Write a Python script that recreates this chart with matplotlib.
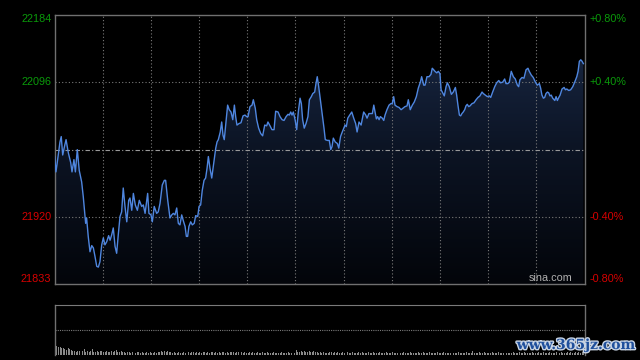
import numpy as np
import matplotlib
matplotlib.use("Agg")
import matplotlib.pyplot as plt
from matplotlib.patches import Polygon
from matplotlib.colors import LinearSegmentedColormap
import matplotlib.patheffects as pe

# ---- data (minutes since open, index level) ----
times = [
    0.1, 0.9, 1.7, 3.4, 4.2, 5.1, 6.4, 7.2, 8.6, 10.1,
    10.9, 12.1, 13.0, 14.2, 15.4, 16.9, 17.9, 19.0, 19.4, 20.0,
    21.0, 22.1, 23.2, 24.2, 25.2, 26.3, 27.3, 28.3, 29.4, 30.4,
    31.4, 32.5, 33.7, 34.6, 35.6, 36.6, 37.7, 38.7, 39.7, 40.8,
    41.8, 42.8, 43.9, 45.0, 46.2, 47.0, 48.1, 49.1, 50.3, 51.6,
    52.8, 54.3, 55.3, 56.4, 58.0, 58.8, 60.1, 60.9, 62.1, 63.6,
    64.6, 65.7, 67.1, 68.4, 69.2, 70.5, 71.9, 73.0, 74.0, 75.0,
    76.1, 77.1, 78.1, 79.2, 80.4, 81.3, 82.1, 82.9, 83.7, 84.8,
    85.8, 87.0, 87.9, 89.2, 90.0, 91.0, 92.0, 93.1, 94.1, 95.0,
    95.8, 96.8, 97.9, 99.1, 100.4, 101.2, 102.0, 103.2, 104.1, 104.9,
    105.7, 106.6, 107.8, 108.8, 109.9, 111.0, 112.0, 112.8, 113.6, 114.9,
    116.1, 117.4, 118.6, 119.6, 120.5, 121.7, 123.0, 123.8, 125.0, 125.9,
    127.1, 128.4, 129.6, 130.9, 132.1, 132.9, 134.2, 135.4, 136.7, 137.7,
    139.2, 140.4, 141.7, 142.9, 144.2, 145.4, 146.2, 147.1, 147.9, 148.7,
    149.8, 150.8, 151.8, 152.9, 153.7, 154.5, 155.5, 156.6, 157.8, 158.7,
    159.9, 160.8, 162.0, 162.8, 163.6, 164.5, 165.3, 166.6, 167.8, 168.6,
    169.9, 171.1, 172.0, 172.8, 173.6, 174.8, 176.1, 177.0, 178.1, 178.8,
    180.1, 180.9, 181.7, 182.6, 183.8, 185.1, 186.3, 187.5, 188.4, 189.6,
    190.9, 192.5, 193.8, 194.6, 195.8, 197.1, 197.9, 198.8, 199.6, 200.4,
    201.2, 202.1, 202.9, 204.1, 205.0, 205.8, 207.0, 208.3, 209.5, 210.3,
    211.2, 212.0, 213.3, 214.5, 215.8, 217.0, 218.2, 219.5, 220.3, 221.5,
    222.8, 224.0, 225.3, 226.5, 227.8, 228.6, 229.9, 230.7, 231.9, 233.2,
    234.4, 235.2, 236.1, 236.9, 238.0, 239.0, 240.0, 240.7, 241.7, 242.7,
    243.8, 244.6, 245.8, 247.1, 248.3, 249.6, 250.4, 251.2, 252.1, 252.9,
    253.7, 254.5, 255.4, 256.2, 257.0, 257.9, 258.7, 260.0, 261.2, 262.5,
    263.7, 264.9, 266.2, 267.0, 268.2, 269.5, 270.7, 271.6, 272.8, 274.1,
    275.3, 276.6, 277.8, 279.1, 280.3, 281.1, 282.3, 283.2, 284.4, 285.7,
    286.9, 288.2, 289.0, 289.8, 291.1, 292.3, 293.6, 294.8, 295.6, 296.9,
    298.1, 299.4, 300.6, 301.9, 302.7, 303.5, 304.4, 305.2, 306.0, 306.9,
    307.7, 308.5, 309.3, 310.2, 311.5, 312.3, 313.1, 314.0, 314.8, 316.0,
    317.3, 318.1, 319.0, 320.2, 321.4, 322.7, 323.9, 325.2, 326.0, 326.8,
    327.7, 328.5, 329.3,
]
index_values = [
    21999, 21979, 21991, 22018, 22025, 22001, 22014, 22021, 22004, 21991,
    21979, 21995, 21979, 22008, 21981, 21966, 21947, 21921, 21912, 21919,
    21895, 21875, 21883, 21880, 21869, 21856, 21855, 21862, 21884, 21893,
    21884, 21888, 21896, 21890, 21897, 21906, 21882, 21873, 21897, 21921,
    21927, 21958, 21934, 21914, 21942, 21945, 21929, 21951, 21936, 21929,
    21942, 21934, 21936, 21925, 21951, 21925, 21923, 21914, 21934, 21925,
    21927, 21938, 21962, 21968, 21968, 21942, 21919, 21923, 21925, 21923,
    21932, 21912, 21910, 21923, 21914, 21908, 21895, 21895, 21908, 21914,
    21910, 21912, 21922, 21921, 21934, 21936, 21955, 21968, 21971, 21984,
    21999, 21984, 21971, 21990, 22010, 22018, 22021, 22031, 22044, 22027,
    22021, 22040, 22066, 22060, 22057, 22047, 22066, 22051, 22040, 22042,
    22043, 22052, 22053, 22051, 22051, 22064, 22066, 22073, 22062, 22047,
    22036, 22029, 22026, 22040, 22039, 22044, 22039, 22034, 22034, 22058,
    22057, 22051, 22047, 22046, 22051, 22054, 22053, 22057, 22053, 22057,
    22047, 22034, 22057, 22075, 22068, 22047, 22036, 22042, 22051, 22073,
    22077, 22081, 22083, 22094, 22103, 22090, 22077, 22055, 22036, 22021,
    22020, 22020, 22008, 22012, 22023, 22018, 22016, 22010, 22025, 22029,
    22036, 22040, 22038, 22049, 22053, 22057, 22049, 22042, 22031, 22044,
    22040, 22057, 22053, 22049, 22055, 22055, 22055, 22066, 22057, 22048,
    22051, 22047, 22051, 22049, 22046, 22053, 22060, 22066, 22068, 22068,
    22077, 22066, 22064, 22063, 22060, 22062, 22064, 22065, 22073, 22060,
    22066, 22070, 22077, 22088, 22096, 22103, 22092, 22092, 22103, 22103,
    22106, 22114, 22112, 22110, 22108, 22110, 22107, 22086, 22082, 22078,
    22090, 22095, 22090, 22080, 22083, 22089, 22079, 22066, 22053, 22052,
    22055, 22057, 22060, 22065, 22067, 22064, 22065, 22068, 22069, 22073,
    22076, 22078, 22083, 22081, 22079, 22077, 22078, 22076, 22083, 22090,
    22095, 22098, 22095, 22096, 22100, 22094, 22094, 22096, 22110, 22103,
    22100, 22092, 22090, 22099, 22102, 22101, 22112, 22114, 22110, 22105,
    22102, 22096, 22092, 22094, 22088, 22079, 22075, 22076, 22081, 22083,
    22082, 22078, 22079, 22075, 22072, 22077, 22072, 22076, 22079, 22087,
    22089, 22086, 22087, 22085, 22086, 22090, 22096, 22103, 22110, 22123,
    22125, 22123, 22120,
]
# per-minute volume (relative units)
volumes = [
    22, 9, 8, 8, 7, 7, 6, 5, 7, 6,
    5, 4, 4, 3, 4, 4, 5, 4, 6, 3,
    4, 3, 4, 6, 3, 3, 4, 3, 4, 4,
    3, 3, 4, 3, 3, 4, 3, 4, 5, 3,
    3, 4, 3, 3, 2, 3, 3, 2, 3, 3,
    2, 3, 3, 2, 3, 2, 2, 3, 2, 3,
    2, 2, 3, 2, 3, 3, 4, 3, 4, 3,
    4, 3, 3, 2, 3, 2, 2, 3, 2, 2,
    3, 2, 2, 3, 2, 3, 3, 2, 3, 2,
    3, 2, 3, 3, 2, 3, 2, 3, 3, 2,
    3, 2, 3, 2, 3, 3, 2, 3, 2, 3,
    3, 3, 2, 3, 3, 2, 3, 2, 3, 2,
    2, 3, 2, 3, 2, 2, 3, 2, 2, 3,
    2, 2, 3, 2, 2, 2, 3, 2, 2, 2,
    2, 3, 2, 2, 2, 3, 2, 2, 2, 2,
    5, 3, 3, 4, 3, 4, 3, 3, 4, 3,
    3, 4, 3, 3, 2, 3, 2, 3, 2, 2,
    2, 3, 3, 2, 3, 2, 3, 2, 2, 3,
    2, 2, 3, 2, 2, 3, 2, 2, 2, 3,
    2, 3, 2, 2, 2, 3, 2, 2, 3, 2,
    2, 2, 3, 2, 2, 2, 3, 2, 2, 2,
    3, 2, 2, 2, 3, 2, 2, 3, 2, 2,
    2, 3, 2, 2, 2, 2, 3, 2, 2, 3,
    2, 2, 2, 3, 2, 2, 2, 2, 3, 2,
    2, 2, 3, 2, 2, 2, 2, 3, 2, 2,
    2, 3, 2, 2, 2, 2, 3, 2, 2, 2,
    4, 2, 2, 2, 3, 2, 2, 3, 2, 2,
    2, 2, 3, 2, 2, 2, 3, 2, 2, 2,
    3, 2, 2, 2, 2, 3, 2, 2, 2, 3,
    2, 2, 3, 2, 2, 2, 2, 3, 2, 2,
    2, 3, 2, 2, 3, 2, 2, 2, 3, 2,
    2, 2, 3, 2, 2, 3, 2, 2, 2, 3,
    2, 3, 2, 2, 3, 2, 3, 2, 3, 3,
]
prev_close = 22008
y_min, y_max = 21833, 22184
left_labels = [22184, 22096, 21920, 21833]
session_minutes = 330

# ---- style ----
bg = "#000000"
grid_c = "#7a7a7a"
spine_c = "#707070"
line_c = "#4f86df"
up_c = "#0a9a0a"
dn_c = "#d80000"
font = "Liberation Sans"

fig = plt.figure(figsize=(6.4, 3.6), dpi=100, facecolor=bg)
ax = fig.add_axes([54.5 / 640, 76 / 360, 530 / 640, 269.5 / 360], facecolor=bg)
axv = fig.add_axes([54.5 / 640, 5 / 360, 530 / 640, 50 / 360], facecolor=bg)

ax.set_xlim(0, session_minutes)
ax.set_ylim(y_min, y_max)

# gradient fill under line
verts = [(times[0], y_min)] + list(zip(times, index_values)) + [(times[-1], y_min)]
poly = Polygon(verts, closed=True, facecolor="none", edgecolor="none")
ax.add_patch(poly)
cmap = LinearSegmentedColormap.from_list("g", ["#03050a", "#0c1424", "#1b2b4a"])
grad = np.linspace(0, 1, 256).reshape(-1, 1)
im = ax.imshow(grad, extent=[0, session_minutes, y_min, y_max], aspect="auto",
               cmap=cmap, origin="lower", zorder=1, interpolation="bilinear")
im.set_clip_path(poly)

ax.plot(times, index_values, color=line_c, lw=1.0, zorder=4)

# grid
for m in range(30, session_minutes, 30):
    ax.axvline(m, color=grid_c, lw=0.8, ls=(0, (1, 2)), zorder=2)
for v in [22096, 21920]:
    ax.axhline(v, color=grid_c, lw=0.8, ls=(0, (1, 2)), zorder=2)
ax.axhline(prev_close, color="#9a9a9a", lw=0.8, ls=(0, (4, 2, 1, 2)), zorder=2)

for s in ax.spines.values():
    s.set_color(spine_c)
    s.set_linewidth(1.0)
ax.set_xticks([])
ax.set_yticks([])

# axis labels
for v in left_labels:
    col = up_c if v > prev_close else dn_c
    va = "top" if v == y_max else ("bottom" if v == y_min else "center")
    ax.text(-0.006, v, f"{v}", transform=ax.get_yaxis_transform(), ha="right",
            va=va, color=col, fontsize=7.8, family=font)
    pct = (v / prev_close - 1) * 100
    ax.text(1.01, v, f"{pct:+.2f}%", transform=ax.get_yaxis_transform(), ha="left",
            va=va, color=col, fontsize=7.8, family=font)

ax.text(0.978, 0.005, "sina.com", transform=ax.transAxes, ha="right", va="bottom",
        color="#b0b0b0", fontsize=7.8, family=font, zorder=5)

# volume panel
minutes = np.arange(len(volumes))
axv.bar(minutes + 0.5, volumes, width=0.6, color="#8a8a8a", linewidth=0)
axv.set_xlim(0, session_minutes)
axv.set_ylim(0, 50)
axv.set_xticks([])
axv.set_yticks([])
axv.axhline(25, color=grid_c, lw=0.8, ls=(0, (1, 1)))
axv.spines["top"].set_color(grid_c)
axv.spines["top"].set_linestyle((0, (1, 1)))
axv.spines["top"].set_linewidth(0.8)
axv.spines["bottom"].set_visible(False)
for k in ("left", "right"):
    axv.spines[k].set_color(spine_c)
    axv.spines[k].set_linewidth(1.0)

fig.text(576 / 640, 1 - 345 / 360, "www.365jz.com", ha="center", va="center",
         color="#1f4f9c", fontsize=10, family="DejaVu Serif", weight="bold",
         path_effects=[pe.withStroke(linewidth=2, foreground="#c8d4e4")])

fig.savefig("out.png", dpi=100, facecolor=bg)
